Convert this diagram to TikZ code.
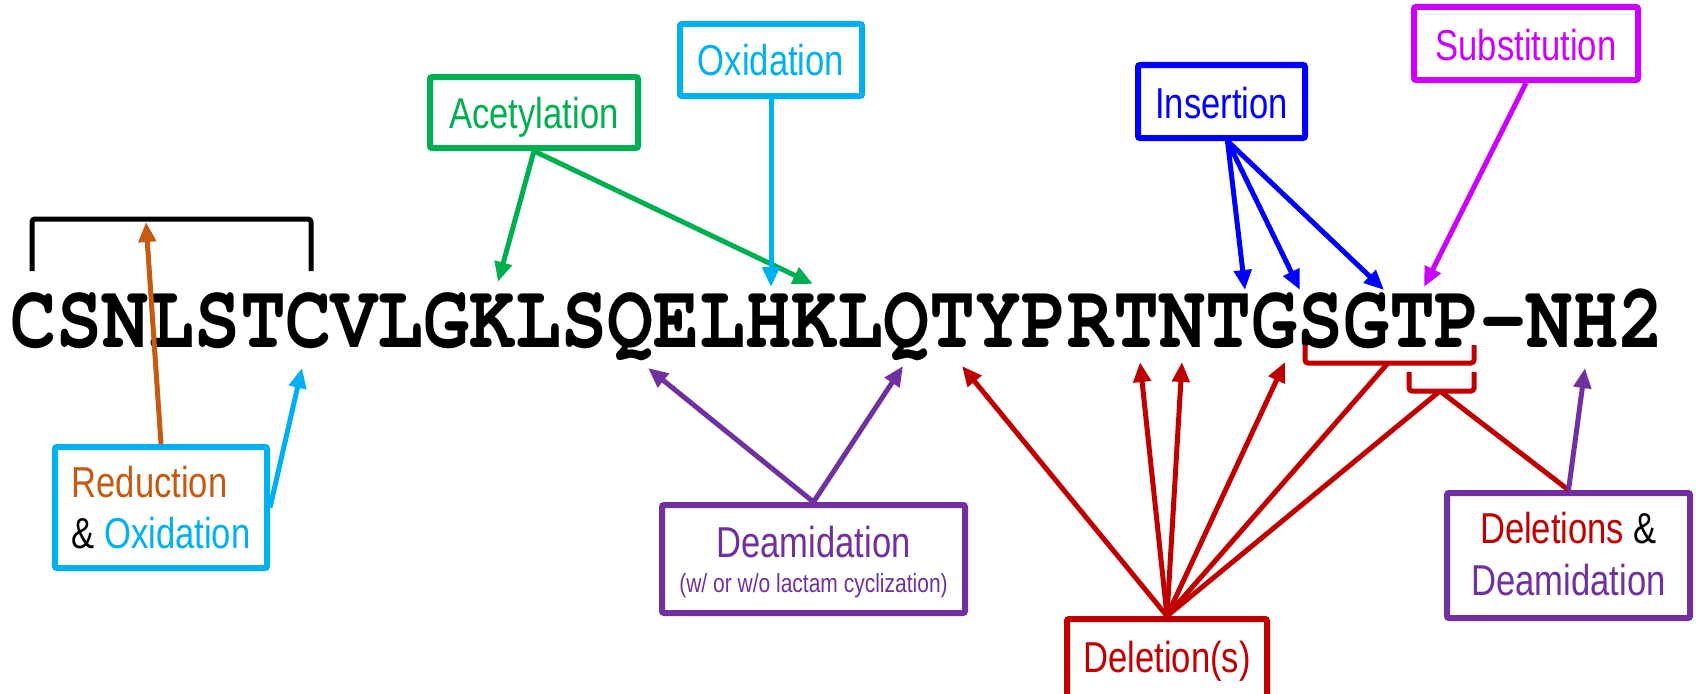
\documentclass[tikz,border=0pt]{standalone}
\usepackage{fontspec}
\setmainfont{Liberation Sans}
\newfontfamily\seqfont{TeX Gyre Cursor}
\usetikzlibrary{arrows.meta}
\definecolor{cgreen}{HTML}{00B050}
\definecolor{clblue}{HTML}{00B0F0}
\definecolor{corange}{HTML}{C55A11}
\definecolor{cblue}{HTML}{0000FF}
\definecolor{cmag}{HTML}{CC00FF}
\definecolor{cpurple}{HTML}{7030A0}
\definecolor{cred}{HTML}{C00000}
\newcommand\ys[2][1.25]{\scalebox{1}[#1]{#2}}
\newcommand\lf{\fontsize{34.6pt}{41pt}\selectfont}
\tikzset{
  lbl/.style={draw, line width=6pt, rounded corners=2pt, fill=white, inner sep=0pt},
  conn/.style={line width=5pt},
  arr/.style={conn, -{Triangle[length=20pt,width=17pt]}},
  brk/.style={line width=5pt, rounded corners=3pt},
}
\begin{document}
\begin{tikzpicture}[x=1pt,y=-1pt]
\useasboundingbox (0,0) rectangle (1696,693);
\clip (0,0) rectangle (1696,693);
\fill[white] (0,0) rectangle (1696,693);

% sequence
\node[anchor=base west, inner sep=0pt] (seq) at (10,347)
  {\ys[1.2]{\seqfont\bfseries\fontsize{76.6pt}{80pt}\selectfont CSNLSTCVLGKLSQELHKLQTYPRTNTGSGTP-NH2}};

% boxes
\node[lbl, draw=cgreen, minimum width=208pt, minimum height=71pt] (acet) at (534,112.5)
  {\raisebox{0pt}[31pt][0pt]{\ys{\lf\color{cgreen}Acetylation}}};
\node[lbl, draw=clblue, minimum width=182pt, minimum height=72pt] (oxid) at (771,60)
  {\raisebox{0pt}[30pt][0pt]{\ys{\lf\color{clblue}Oxidation}}};
\node[lbl, draw=cblue, minimum width=167pt, minimum height=73pt] (ins) at (1221.5,101.5)
  {\raisebox{0pt}[33pt][0pt]{\ys{\lf\color{cblue}Insertion}}};
\node[lbl, draw=cmag, minimum width=224pt, minimum height=73pt] (subst) at (1526,43.5)
  {\raisebox{0pt}[33pt][0pt]{\ys{\lf\color{cmag}Substitution}}};
\node[lbl, draw=clblue, minimum width=212pt, minimum height=121pt] (redox) at (161,507.5)
  {\raisebox{0pt}[81pt][0pt]{\ys{\fontsize{10pt}{40.8pt}\selectfont\begin{tabular}[b]{@{}l@{}}\lf\color{corange}Reduction\\ \lf\color{black}\& \color{clblue}Oxidation\end{tabular}}}};
\node[lbl, draw=cpurple, minimum width=303pt, minimum height=108pt] (deam) at (813.5,559)
  {\raisebox{0pt}[66pt][0pt]{\ys{\color{cpurple}\fontsize{10pt}{28pt}\selectfont\begin{tabular}[b]{@{}c@{}}\lf Deamidation\\ \fontsize{21pt}{28pt}\selectfont (w/ or w/o lactam cyclization)\end{tabular}}}};
\node[lbl, draw=cred, minimum width=200pt, minimum height=86pt] (del) at (1167,662)
  {\raisebox{0pt}[20pt][0pt]{\ys{\lf\color{cred}Deletion(s)}}};
\node[lbl, draw=cpurple, minimum width=243pt, minimum height=125pt] (deldeam) at (1568.5,555.5)
  {\raisebox{0pt}[79pt][0pt]{\ys{\fontsize{10pt}{41.6pt}\selectfont\begin{tabular}[b]{@{}c@{}}\lf\color{cred}Deletions \color{black}\&\\ \lf\color{cpurple}Deamidation\end{tabular}}}};

% target points
\coordinate (tAc1) at (498,282);
\coordinate (tAc2) at (813,284);
\coordinate (tOx) at (771,287);
\coordinate (tIn1) at (1245,290);
\coordinate (tIn2) at (1300,290);
\coordinate (tIn3) at (1384,290);
\coordinate (tSub) at (1424,287);
\coordinate (tRed) at (146,222);
\coordinate (tRox) at (302,368);
\coordinate (tDm1) at (648,368);
\coordinate (tDm2) at (903,366);
\coordinate (tD1) at (962,366);
\coordinate (tD2) at (1140,362);
\coordinate (tD3) at (1182,362);
\coordinate (tD4) at (1285,362);
\coordinate (bkA) at (1388,363);
\coordinate (bkB) at (1440,391);
\coordinate (tDD) at (1585,368);

% brackets
\draw[brk, black] (32,271) -- (32,219) -- (311,219) -- (311,271);
\draw[brk, cred] (1305,345) -- (1305,363) -- (1474,363) -- (1474,345);
\draw[brk, cred] (1409,372) -- (1409,391) -- (1474,391) -- (1474,372);

% connectors
\draw[arr, cgreen] (acet.south) -- (tAc1);
\draw[arr, cgreen] (acet.south) -- (tAc2);
\draw[arr, clblue] (oxid.south) -- (tOx);
\draw[arr, cblue] ([xshift=6pt]ins.south) -- (tIn1);
\draw[arr, cblue] ([xshift=6pt]ins.south) -- (tIn2);
\draw[arr, cblue] ([xshift=6pt]ins.south) -- (tIn3);
\draw[arr, cmag] (subst.south) -- (tSub);
\draw[arr, corange] (redox.north) -- (tRed);
\draw[arr, clblue] (redox.east) -- (tRox);
\draw[arr, cpurple] (deam.north) -- (tDm1);
\draw[arr, cpurple] (deam.north) -- (tDm2);
\draw[arr, cred] (del.north) -- (tD1);
\draw[arr, cred] (del.north) -- (tD2);
\draw[arr, cred] (del.north) -- (tD3);
\draw[arr, cred] (del.north) -- (tD4);
\draw[conn, cred] (del.north) -- (bkA);
\draw[conn, cred] (del.north) -- (bkB);
\draw[conn, cred] (bkB) -- (deldeam.north);
\draw[arr, cpurple] (deldeam.north) -- (tDD);
\end{tikzpicture}
\end{document}
